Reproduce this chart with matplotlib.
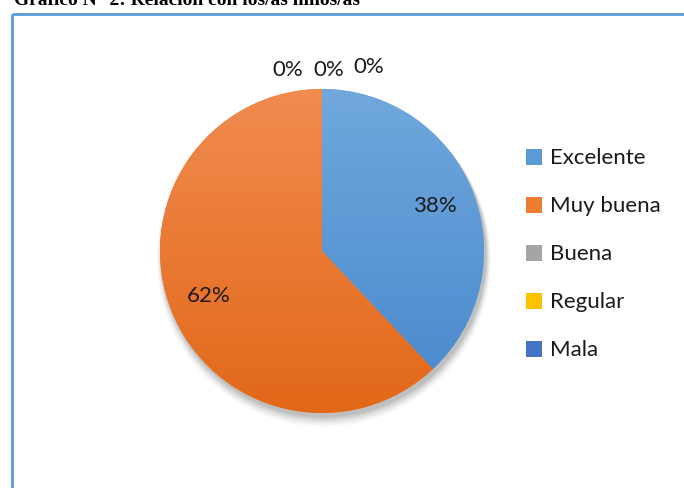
import matplotlib
matplotlib.use("Agg")
import matplotlib.pyplot as plt
from matplotlib.patches import Patch, Circle
from matplotlib.colors import to_rgb
import numpy as np

categories = ["Excelente", "Muy buena", "Buena", "Regular", "Mala"]
values = [38, 62, 0, 0, 0]
colors = ["#5B9BD5", "#ED7D31", "#A5A5A5", "#FFC000", "#4472C4"]
grad_top = ["#70A8DD", "#F18B50", "#B5B5B5", "#FFCB33", "#5A84CC"]
grad_bot = ["#4787CC", "#E26818", "#959595", "#F0B000", "#3A64B0"]
title = "Gráfico N° 2: Relación con los/as niños/as"

W, H = 684, 488
fig = plt.figure(figsize=(W / 100, H / 100), dpi=100)
ax = fig.add_axes([0, 0, 1, 1])

font = "Lato"
cx, cy, r = 322, H - 251, 162

# shadow
for i, a in enumerate(np.linspace(0.07, 0.02, 6)):
    ax.add_patch(Circle((cx + 2, cy - 4 - i), r + 0.5 + i * 0.9, color="black", alpha=a, lw=0, zorder=1))

wedges, texts, autotexts = ax.pie(values, colors=colors, startangle=90, counterclock=False,
                                  center=(cx, cy), radius=r, autopct="%1.0f%%",
                                  pctdistance=0.75, frame=True,
                                  wedgeprops=dict(linewidth=0, zorder=2),
                                  textprops=dict(fontsize=16, family=font, color="#1a1a1a"))
ax.set_xlim(0, W)
ax.set_ylim(0, H)
ax.set_aspect("equal")
ax.axis("off")

# vertical gradient fill for each visible wedge
yy = np.linspace(0, 1, 256)[:, None]
for w, v, ct, cb in zip(wedges, values, grad_top, grad_bot):
    if v == 0:
        continue
    top = np.array(to_rgb(ct)); bot = np.array(to_rgb(cb))
    img = top[None, None, :] * (1 - yy[..., None]) + bot[None, None, :] * yy[..., None]
    img = np.repeat(img, 2, axis=1)
    im = ax.imshow(img, extent=(cx - r, cx + r, cy - r, cy + r), origin="upper",
                   zorder=3, aspect="auto", interpolation="bilinear")
    im.set_clip_path(w)
ax.set_xlim(0, W)
ax.set_ylim(0, H)

# frame lines
ax.plot([11.5, 11.5], [0, H - 14], color="#5B9BD5", lw=2, solid_capstyle="butt")
ax.plot([11.5, W], [H - 14, H - 14], color="#5B9BD5", lw=2, solid_capstyle="butt")

# title (partially cut off at top, as in the reference)
ax.text(14, H - 5, title, fontsize=14, fontweight="bold", family="Liberation Serif",
        ha="left", va="baseline")

# zero labels placed above the pie
zero_pos = [(288, 70), (329, 70), (369, 67)]
k = 0
for v, t in zip(values, autotexts):
    t.set_zorder(5)
    if v == 0:
        t.set_position((zero_pos[k][0], H - zero_pos[k][1]))
        k += 1

handles = [Patch(facecolor=c, edgecolor="none") for c in colors]
leg = ax.legend(handles, categories, loc="upper left", bbox_to_anchor=(506 / W, 1 - 128.5 / H),
                frameon=False, prop=dict(family=font, size=16), labelspacing=1.26,
                handlelength=0.72, handleheight=0.72, handletextpad=0.35)
for txt in leg.get_texts():
    txt.set_color("#1a1a1a")

fig.savefig("out.png", dpi=100)
